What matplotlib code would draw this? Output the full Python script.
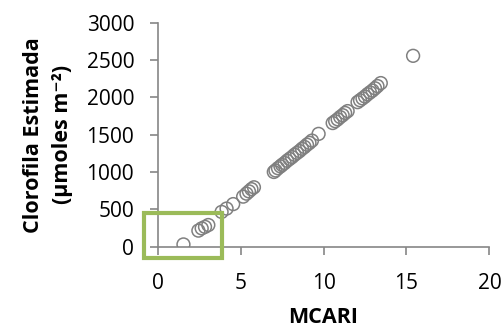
import matplotlib.pyplot as plt
from matplotlib.patches import Rectangle

# values
mcari = [1.55, 2.45, 2.65, 2.85, 3.05, 3.85, 4.15, 4.55, 5.15, 5.35, 5.5, 5.65, 5.8,
         7.0, 7.1, 7.25, 7.4, 7.5, 7.65, 7.8, 7.95, 8.1, 8.25, 8.4, 8.55, 8.7, 8.85,
         9.0, 9.15, 9.3, 9.7, 10.55, 10.7, 10.85, 11.0, 11.15, 11.3, 11.45,
         12.05, 12.2, 12.35, 12.5, 12.65, 12.8, 12.95, 13.1, 13.25, 13.45, 15.4]
clorofila = [30, 215, 245, 265, 290, 465, 510, 570, 670, 710, 740, 770, 795,
             1000, 1020, 1050, 1075, 1095, 1120, 1150, 1175, 1200, 1230, 1255, 1280, 1310, 1335,
             1365, 1390, 1420, 1510, 1655, 1680, 1705, 1735, 1760, 1790, 1815,
             1935, 1960, 1985, 2010, 2040, 2065, 2090, 2120, 2150, 2190, 2555]

xticks = [0, 5, 10, 15, 20]
yticks = [0, 500, 1000, 1500, 2000, 2500, 3000]

# highlighted region (data units): x0, y0, width, height
box = (-0.85, -155, 4.7, 605)

plt.rcParams['font.family'] = ['Open Sans', 'DejaVu Sans']

fig = plt.figure(figsize=(5.04, 3.32), dpi=100)
ax = fig.add_axes([0.313, 0.257, 0.658, 0.675])

ax.scatter(mcari, clorofila, s=85, facecolors='none', edgecolors='#808080',
           linewidths=1.1, zorder=3)

ax.set_xlim(0, 20)
ax.set_ylim(0, 3000)
ax.set_xticks(xticks)
ax.set_yticks(yticks)

for s in ['top', 'right']:
    ax.spines[s].set_visible(False)
for s in ['left', 'bottom']:
    ax.spines[s].set_color('#868686')
    ax.spines[s].set_linewidth(1.2)
ax.tick_params(axis='both', colors='#868686', labelcolor='black', labelsize=15,
               length=6, width=1.2, direction='out')
ax.tick_params(axis='y', pad=11)
ax.tick_params(axis='x', pad=13)

ax.set_xlabel('MCARI', fontsize=15.5, fontweight='bold', labelpad=9)
ax.set_ylabel('Clorofila Estimada\n(µmoles m⁻²)', fontsize=15.5,
              fontweight='bold', labelpad=10, linespacing=1.45)

rect = Rectangle((box[0], box[1]), box[2], box[3], fill=False,
                 edgecolor='#9BBB59', linewidth=3, clip_on=False, zorder=4)
ax.add_patch(rect)

fig.savefig('out.png', dpi=100)
